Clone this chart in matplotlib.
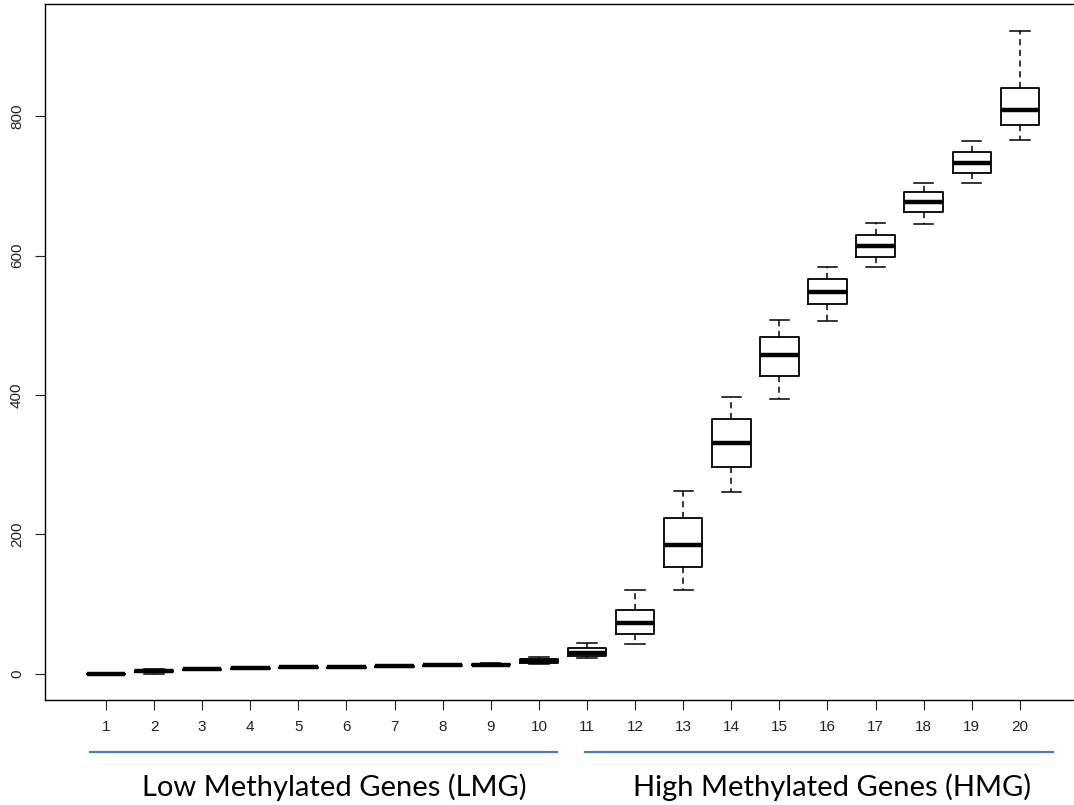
import matplotlib
matplotlib.use('Agg')
import matplotlib.pyplot as plt

# box statistics, one entry per group 1..20
groups = list(range(1, 21))
whislo = [0, 0, 5.5, 7, 8, 8, 10, 11.5, 12, 14, 23, 43.5, 121, 261, 394, 506, 583, 645, 704, 765]
q1 = [-0.5, 2.4, 6, 7.5, 8.5, 8.5, 10.5, 12, 12.5, 15.3, 25.4, 57, 154, 297, 427, 530, 598, 662, 719, 786.6]
med = [0, 4.3, 6.7, 8, 9.3, 9.3, 11.3, 12.5, 13.5, 18, 29.6, 72.6, 185, 331, 457, 547.7, 613.6, 677, 733, 809]
q3 = [0.5, 5.7, 7.5, 8.5, 10, 10, 12, 13, 15, 21, 36.8, 91.8, 224, 365.6, 483, 566, 630, 690.6, 748.4, 840.6]
whishi = [1, 6.7, 8, 9, 10.5, 10.5, 12.5, 13.5, 16, 24.8, 45, 120.4, 262.8, 397, 507.5, 583, 647, 704, 764.6, 922]

y_ticks = [0, 200, 400, 600, 800]
group_names = ['Low Methylated Genes (LMG)', 'High Methylated Genes (HMG)']

stats = []
for i in range(len(groups)):
    stats.append({'whislo': whislo[i], 'q1': q1[i], 'med': med[i],
                  'q3': q3[i], 'whishi': whishi[i], 'fliers': []})

fig = plt.figure(figsize=(10.74, 8.05), dpi=100)
ax = fig.add_axes([45 / 1074, 1 - 700 / 805, 1 - 45 / 1074, 696 / 805])

ax.bxp(stats, positions=groups, widths=0.8, showfliers=False,
       boxprops=dict(color='black', linewidth=1.3),
       medianprops=dict(color='black', linewidth=3.2, solid_capstyle='butt'),
       whiskerprops=dict(color='black', linewidth=1.1, linestyle=(0, (4, 3))),
       capprops=dict(color='black', linewidth=1.1),
       capwidths=0.4)

x_left = 1 + (45 - 106) / 48.1
x_right = 1 + (1074 - 106) / 48.1
ax.set_xlim(x_left, x_right)
ax.set_ylim(-37.3, 960.6)

ax.spines['right'].set_visible(False)
for s in ['left', 'bottom', 'top']:
    ax.spines[s].set_linewidth(1.0)

ax.set_xticks(groups)
ax.set_xticklabels([str(g) for g in groups], fontfamily='Liberation Sans', fontsize=11)
ax.set_yticks(y_ticks)
ax.set_yticklabels([str(v) for v in y_ticks], fontfamily='Liberation Sans', fontsize=11,
                   rotation=90, va='center')
ax.tick_params(axis='x', length=7.2, width=0.8, pad=7, colors='#222222')
ax.tick_params(axis='y', length=7.2, width=0.8, pad=8, colors='#222222')

# group bars and captions under the axis
line_spans = [(0.67, 10.38), (10.96, 20.69)]
text_x = [5.74, 16.09]
for name, (a, b), tx in zip(group_names, line_spans, text_x):
    ax.plot([a, b], [-112, -112], color='#4a7ebb', linewidth=1.6, clip_on=False)
    ax.text(tx, -163, name, ha='center', va='center', fontsize=21,
            fontfamily='Lato', clip_on=False)

fig.savefig('out.png', dpi=100)
